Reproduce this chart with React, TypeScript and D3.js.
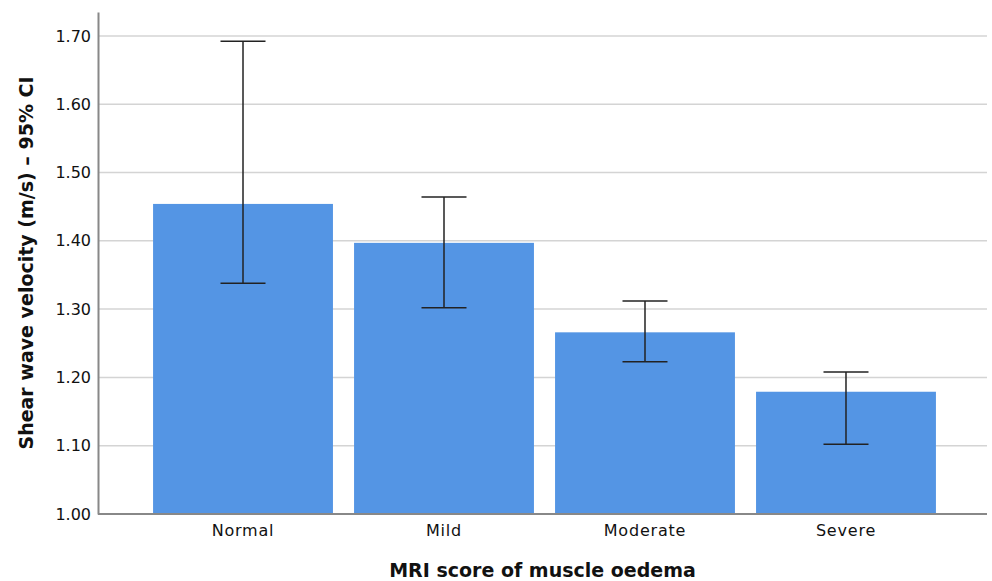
import * as d3 from 'd3';
import React, { useEffect, useRef } from 'react';

// Data
const categories = ['Normal', 'Mild', 'Moderate', 'Severe'];
const means = [1.454, 1.397, 1.266, 1.179];
const ciLow = [1.338, 1.302, 1.223, 1.102];
const ciHigh = [1.692, 1.464, 1.312, 1.208];
const yTicks = [1.0, 1.1, 1.2, 1.3, 1.4, 1.5, 1.6, 1.7];

function App() {
    const ref = useRef<SVGSVGElement>(null);

    useEffect(() => {
        const width = 992;
        const height = 581;
        const margin = { top: 12, right: 5, bottom: 67, left: 98 };

        const svg = d3.select(ref.current);
        svg.selectAll('*').remove();
        svg.attr('width', width).attr('height', height)
            .style('font-family', '"DejaVu Sans", sans-serif');

        // bands sit slightly right of the axis origin in the original
        const x = d3.scaleBand<string>()
            .domain(categories)
            .range([margin.left + 2, width - margin.right + 2])
            .paddingInner(0.105)
            .paddingOuter(0.264);

        const y = d3.scaleLinear()
            .domain([1.0, 1.735])
            .range([height - margin.bottom, margin.top]);

        // grid lines
        svg.append('g')
            .selectAll('line')
            .data(yTicks.slice(1))
            .join('line')
            .attr('x1', margin.left)
            .attr('x2', width - margin.right)
            .attr('y1', (d) => y(d))
            .attr('y2', (d) => y(d))
            .attr('stroke', '#d4d4d4')
            .attr('stroke-width', 1.5);

        // bars
        svg.append('g')
            .selectAll('rect')
            .data(categories)
            .join('rect')
            .attr('x', (d) => x(d)!)
            .attr('width', x.bandwidth())
            .attr('y', (d, i) => y(means[i]))
            .attr('height', (d, i) => y(1.0) - y(means[i]))
            .attr('fill', '#5495e4');

        // error bars
        const capW = 45;
        const eb = svg.append('g')
            .attr('stroke', '#222')
            .attr('stroke-width', 1.5);
        categories.forEach((c, i) => {
            const cx = x(c)! + x.bandwidth() / 2;
            eb.append('line').attr('x1', cx).attr('x2', cx)
                .attr('y1', y(ciLow[i])).attr('y2', y(ciHigh[i]));
            eb.append('line').attr('x1', cx - capW / 2).attr('x2', cx + capW / 2)
                .attr('y1', y(ciLow[i])).attr('y2', y(ciLow[i]));
            eb.append('line').attr('x1', cx - capW / 2).attr('x2', cx + capW / 2)
                .attr('y1', y(ciHigh[i])).attr('y2', y(ciHigh[i]));
        });

        // y axis
        const yAxis = svg.append('g')
            .attr('transform', `translate(${margin.left},0)`)
            .call(d3.axisLeft(y).tickValues(yTicks).tickFormat(d3.format('.2f')).tickSize(0).tickPadding(7));
        yAxis.select('.domain').attr('stroke', '#888').attr('stroke-width', 2);
        yAxis.selectAll('text').attr('font-size', 16).attr('fill', '#111')
            .style('font-family', '"DejaVu Sans", sans-serif');

        // x axis
        const xAxis = svg.append('g')
            .attr('transform', `translate(0,${y(1.0)})`)
            .call(d3.axisBottom(x).tickSize(0).tickPadding(11));
        xAxis.select('.domain').remove();
        xAxis.append('line')
            .attr('x1', margin.left)
            .attr('x2', width - margin.right)
            .attr('stroke', '#888')
            .attr('stroke-width', 2);
        xAxis.selectAll('text').attr('font-size', 16).attr('fill', '#111')
            .attr('letter-spacing', 0.8)
            .style('font-family', '"DejaVu Sans", sans-serif');

        // axis titles
        svg.append('text')
            .attr('transform', `translate(33,${(margin.top + y(1.0)) / 2}) rotate(-90)`)
            .attr('text-anchor', 'middle')
            .attr('font-size', 19)
            .attr('font-weight', 'bold')
            .attr('fill', '#111')
            .text('Shear wave velocity (m/s) – 95% CI');

        svg.append('text')
            .attr('x', (margin.left + width - margin.right) / 2)
            .attr('y', 577)
            .attr('text-anchor', 'middle')
            .attr('font-size', 19)
            .attr('font-weight', 'bold')
            .attr('fill', '#111')
            .text('MRI score of muscle oedema');
    }, []);

    return (
        <div style={{ position: 'absolute', left: 0, top: 0 }}>
            <svg ref={ref} />
        </div>
    );
}

export default App;
